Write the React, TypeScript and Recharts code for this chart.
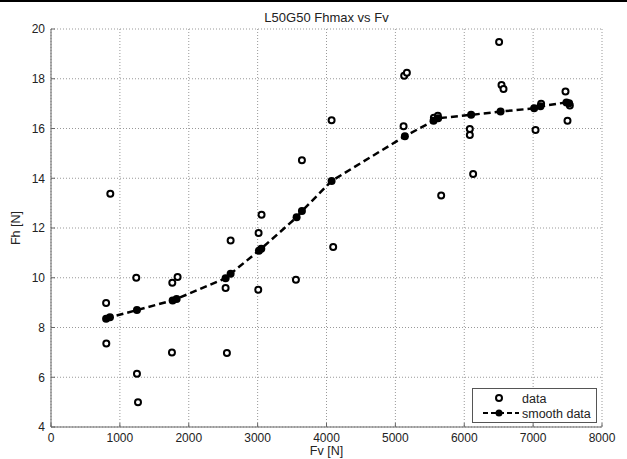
import { CartesianGrid, Scatter, ScatterChart, XAxis, YAxis } from "recharts";

// measured points (Fv, Fh)
const dataFv = [
  800, 803, 861, 1238, 1248, 1263, 1756, 1761, 1838, 2535, 2554, 2608, 3009, 3014, 3057, 3556,
  3643, 4074, 4097, 5119, 5128, 5167, 5559, 5617, 5665, 6081, 6081, 6129, 6506, 6541, 6570,
  7035, 7116, 7470, 7499, 7533,
];
const dataFh = [
  8.98, 7.36, 13.38, 10.0, 6.14, 4.99, 7.0, 9.8, 10.03, 9.59, 6.97, 11.5, 9.52, 11.8, 12.53, 9.92,
  14.72, 16.33, 11.24, 16.09, 18.12, 18.24, 16.43, 16.51, 13.31, 15.98, 15.74, 14.17, 19.48, 17.75,
  17.59, 15.94, 17.0, 17.49, 16.31, 16.92,
];

// smoothed curve
const smoothFv = [
  800, 856, 1248, 1766, 1824, 2535, 2608, 3019, 3053, 3566, 3643, 4074, 5138, 5554, 5621, 6100,
  6527, 7015, 7107, 7484, 7523,
];
const smoothFh = [
  8.35, 8.41, 8.7, 9.09, 9.15, 9.98, 10.16, 11.09, 11.17, 12.43, 12.68, 13.89, 15.69, 16.31,
  16.41, 16.55, 16.68, 16.81, 16.89, 17.05, 17.02,
];

const xTicks = [0, 1000, 2000, 3000, 4000, 5000, 6000, 7000, 8000];
const yTicks = [4, 6, 8, 10, 12, 14, 16, 18, 20];

const raw = dataFv.map((x, i) => ({ x, y: dataFh[i] }));
const smooth = smoothFv.map((x, i) => ({ x, y: smoothFh[i] }));

const font = "'Liberation Sans', Arial, sans-serif";
const axisColor = "#666";
const tickStyle = { fontSize: 12, fill: "#222", fontFamily: font };
const labelStyle = { fontSize: 12.5, fill: "#222", fontFamily: font };

const OpenDot = (p: any) => (
  <circle cx={p.cx} cy={p.cy} r={3} fill="#fff" stroke="#000" strokeWidth={2} />
);
const FilledDot = (p: any) => <circle cx={p.cx} cy={p.cy} r={4} fill="#000" />;

function LegendBox() {
  return (
    <svg
      width={126}
      height={36}
      style={{ position: "absolute", left: 472, top: 388, fontFamily: font, fontSize: 12.5 }}
    >
      <rect x={0.5} y={0.5} width={124} height={34} fill="#fff" stroke="#555" />
      <circle cx={27} cy={10} r={3} fill="#fff" stroke="#000" strokeWidth={2} />
      <text x={50} y={14.5} fill="#222">
        data
      </text>
      <line x1={11} y1={25} x2={47} y2={25} stroke="#000" strokeWidth={2} strokeDasharray="5 3" />
      <circle cx={27} cy={25} r={3.5} fill="#000" />
      <text x={50} y={29.5} fill="#222">
        smooth data
      </text>
    </svg>
  );
}

export default function App() {
  return (
    <div style={{ position: "absolute", left: 0, top: 0, width: 627, height: 459, background: "#fff" }}>
      <div style={{ position: "absolute", left: 0, top: 0, width: 627, height: 2, background: "#000" }} />
      <ScatterChart width={627} height={459} margin={{ top: 29, right: 25, bottom: 2, left: 11 }}>
        <text x={326.5} y={22} textAnchor="middle" fontFamily={font} fontSize={13} fill="#222">
          L50G50 Fhmax vs Fv
        </text>
        <CartesianGrid stroke="#999" strokeDasharray="1 2" />
        <XAxis
          xAxisId="top"
          orientation="top"
          type="number"
          dataKey="x"
          domain={[0, 8000]}
          ticks={xTicks}
          height={0}
          tick={false}
          tickSize={-4}
          stroke={axisColor}
          allowDataOverflow
        />
        <YAxis
          yAxisId="right"
          orientation="right"
          type="number"
          dataKey="y"
          domain={[4, 20]}
          ticks={yTicks}
          width={0}
          tick={false}
          tickSize={-4}
          stroke={axisColor}
          allowDataOverflow
        />
        <XAxis
          type="number"
          dataKey="x"
          domain={[0, 8000]}
          ticks={xTicks}
          height={30}
          tickSize={-4}
          tickMargin={10}
          stroke={axisColor}
          tick={tickStyle}
          label={{ value: "Fv [N]", position: "insideBottom", offset: 2, style: labelStyle }}
        />
        <YAxis
          type="number"
          dataKey="y"
          domain={[4, 20]}
          ticks={yTicks}
          width={40}
          tickSize={-4}
          tickMargin={10}
          stroke={axisColor}
          tick={tickStyle}
          label={{
            value: "Fh [N]",
            angle: -90,
            position: "insideLeft",
            offset: 5,
            style: { ...labelStyle, textAnchor: "middle" },
          }}
        />
        <Scatter name="data" data={raw} shape={<OpenDot />} isAnimationActive={false} />
        <Scatter
          name="smooth data"
          data={smooth}
          shape={<FilledDot />}
          line={{ stroke: "#000", strokeWidth: 2.5, strokeDasharray: "7 4" }}
          lineType="joint"
          isAnimationActive={false}
        />
      </ScatterChart>
      <LegendBox />
    </div>
  );
}
